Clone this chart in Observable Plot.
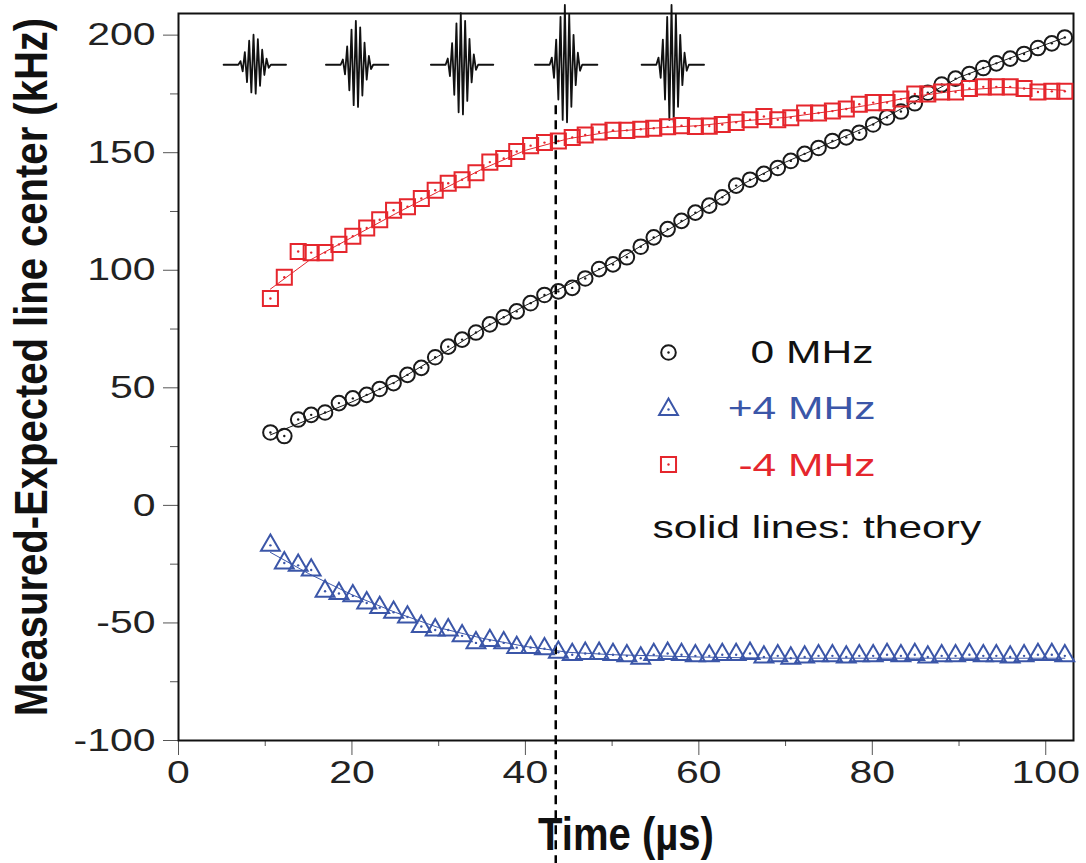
<!DOCTYPE html>
<html><head><meta charset="utf-8">
<script src="https://cdn.jsdelivr.net/npm/d3@7"></script>
<script src="https://cdn.jsdelivr.net/npm/@observablehq/plot@0.6"></script>
<style>body{margin:0;background:#fff;} svg{display:block}</style>
</head><body><div id="chart"></div>
<script>
// ---- data ----
const time = [10.6,12.2,13.8,15.3,16.9,18.5,20.1,21.7,23.2,24.8,
  26.4,28.0,29.6,31.1,32.7,34.3,35.9,37.5,39.0,40.6,
  42.2,43.8,45.4,46.9,48.5,50.1,51.7,53.3,54.8,56.4,
  58.0,59.6,61.2,62.7,64.3,65.9,67.5,69.1,70.6,72.2,
  73.8,75.4,77.0,78.5,80.1,81.7,83.3,84.9,86.4,88.0,
  89.6,91.2,92.8,94.3,95.9,97.5,99.1,100.7,102.2];
const zeroMHz = [31,29.5,36.5,38.5,39.5,43.5,45.5,47,49.5,52,
  55.5,58.5,63,67.5,70.5,73.5,77,80,82.5,86,
  89.5,91,92.5,96.5,100.5,102.5,105.5,110,114,117.5,
  121,124.5,127.5,131,136,138.5,141,143.5,146.5,149.5,
  152,155,156.5,158.5,162,165,167.5,171,175.5,179,
  181.5,183.5,186,188,190,192,194.5,196.5,199];
const plus4MHz = [-17,-24.5,-25.5,-27.5,-36.5,-37.5,-38.5,-41.5,-43.5,-45.5,
  -47.5,-51.5,-53,-53,-55.5,-58.5,-57.5,-58.5,-60.5,-60.5,
  -61,-62.5,-63.5,-63,-63,-63.5,-64,-65,-63.5,-63,
  -63.5,-64,-64,-63.5,-63.5,-63,-64.5,-64,-65,-64.5,
  -64,-64,-64.5,-64,-64,-63.5,-64,-63.5,-64.5,-64,
  -64,-63.5,-64,-64,-64.5,-64,-63.5,-63.5,-64];
const minus4MHz = [88,97,108,107.5,107.5,111,114.5,118,121.5,125.5,
  127,130.5,134,137,138.5,141.5,146,147.5,150.5,153,
  154.3,155,156.5,157.5,158.8,159.5,159.5,160,160.4,161,
  161.5,161.2,161.3,162,162.9,164,165.4,164,164.9,166.9,
  166.9,167.7,168.6,170.6,171.3,171.3,172.8,175,175,175.8,
  175.8,177.3,178,178,178,177.3,175.8,176.1,176.1];

const theoryTime  = [10.6,15,20,25,30,35,40,45,50,55,60,65,70,75,80,85,90,95,100,102.2];
const theoryZero  = [30,36.5,44,52.5,63.5,75,85,94,103,114,125,136.5,146,154,162,172,182,189,196,199];
const theoryPlus  = [-20,-29,-38,-45.5,-52,-56.5,-60,-62.5,-63.5,-64,-64.5,-64.8,-65,-65,-65,-65,-65,-65,-65,-65];
const theoryMinus = [92,104,114,124,133.5,143,151,156,159,160.5,161.5,163.5,165,167.5,170.5,174,176.5,177.8,177,176.5];

const xTicks = [0,20,40,60,80,100];
const xMinorTicks = [10,30,50,70,90];
const yTicks = [-100,-50,0,50,100,150,200];
const yMinorTicks = [-75,-25,25,75,125,175];

const seriesLabels = ["0 MHz","+4 MHz","-4 MHz"];
const theoryNote = "solid lines: theory";
const xLabel = "Time (\u00b5s)";
const yLabel = "Measured-Expected line center (kHz)";

const markerTime = [43.5];
const markerSpan = [170, -153];

// pulse sketches at the top
const packetTimes = [8.8, 20.6, 32.7, 44.7, 57.0];
const packetAmps = [12.8, 18.7, 22, 25.5, 25.5];
const packetCenter = 187.4;
const packetDt = [-3.6,-1.9,-1.65,-1.4,-1.15,-0.9,-0.65,-0.4,-0.15,0.1,0.35,0.6,0.85,1.1,1.35,1.6,1.85,3.6];
const packetShape = [0,0,0.12,-0.22,0.42,-0.58,0.8,-0.92,1.0,-0.96,0.85,-0.7,0.5,-0.34,0.2,-0.1,0,0];

// ---- styling ----
const BLACK = "#1a1a1a", BLUE = "#3b56a8", RED = "#e5262d";

const points = time.map((t, i) => ({t, zero: zeroMHz[i], plus: plus4MHz[i], minus: minus4MHz[i]}));
const theory = theoryTime.map((t, i) => ({t, zero: theoryZero[i], plus: theoryPlus[i], minus: theoryMinus[i]}));
const packets = [];
packetTimes.forEach((pt, p) => packetDt.forEach((d, k) => packets.push({p, t: pt + d, v: packetCenter + packetAmps[p] * packetShape[k]})));

const plot = Plot.plot({
  width: 1086, height: 863,
  marginLeft: 178, marginRight: 13, marginTop: 13, marginBottom: 123,
  style: {fontFamily: "'Liberation Sans', Arial, sans-serif", background: "#fff", overflow: "visible"},
  x: {domain: [0, 103.2]},
  y: {domain: [-100, 209.2]},
  marks: [
    Plot.axisX(xTicks, {tickSize: 15, tickPadding: 5, fontSize: 32, label: null, stroke: "#555", fill: "#222"}),
    Plot.axisX(xMinorTicks, {tickSize: 6, tickFormat: () => "", label: null, stroke: "#555"}),
    Plot.axisY(yTicks, {tickSize: 15, tickPadding: 8, fontSize: 32, label: null, stroke: "#555", fill: "#222", tickFormat: d => String(d)}),
    Plot.axisY(yMinorTicks, {tickSize: 8, tickFormat: () => "", label: null, stroke: "#555"}),
    Plot.frame({stroke: "#111", strokeWidth: 2}),
    Plot.line(packets, {x: "t", y: "v", z: "p", stroke: "#111", strokeWidth: 1.8}),
    Plot.line(theory, {x: "t", y: "zero", stroke: BLACK, strokeWidth: 1}),
    Plot.line(theory, {x: "t", y: "plus", stroke: BLUE, strokeWidth: 1}),
    Plot.line(theory, {x: "t", y: "minus", stroke: RED, strokeWidth: 1}),
    Plot.ruleX(markerTime, {y1: markerSpan[0], y2: markerSpan[1], stroke: "#000", strokeWidth: 2.5, strokeDasharray: "9,6"}),
    Plot.dot(points, {x: "t", y: "zero", symbol: "circle", r: 7.3, stroke: BLACK, strokeWidth: 2, fill: "none"}),
    Plot.dot(points, {x: "t", y: "zero", r: 1.2, fill: BLACK}),
    Plot.dot(points, {x: "t", y: "plus", symbol: "triangle", r: 7, stroke: BLUE, strokeWidth: 2, fill: "none"}),
    Plot.dot(points, {x: "t", y: "plus", r: 1.2, fill: BLUE}),
    Plot.dot(points, {x: "t", y: "minus", symbol: "square", r: 8.5, stroke: RED, strokeWidth: 2, fill: "none"}),
    Plot.dot(points, {x: "t", y: "minus", r: 1.2, fill: RED}),
    // legend
    Plot.dot([0], {frameAnchor: "top-left", dx: 490, dy: 339, symbol: "circle", r: 7.3, stroke: BLACK, strokeWidth: 2, fill: "none"}),
    Plot.dot([0], {frameAnchor: "top-left", dx: 490, dy: 339, r: 1.2, fill: BLACK}),
    Plot.dot([0], {frameAnchor: "top-left", dx: 490, dy: 396, symbol: "triangle", r: 7, stroke: BLUE, strokeWidth: 2, fill: "none"}),
    Plot.dot([0], {frameAnchor: "top-left", dx: 490, dy: 396, r: 1.2, fill: BLUE}),
    Plot.dot([0], {frameAnchor: "top-left", dx: 490, dy: 451, symbol: "square", r: 8.5, stroke: RED, strokeWidth: 2, fill: "none"}),
    Plot.dot([0], {frameAnchor: "top-left", dx: 490, dy: 451, r: 1.2, fill: RED}),
    Plot.text([seriesLabels[0]], {frameAnchor: "top-left", dx: 695, dy: 339, textAnchor: "end", lineAnchor: "middle", fontSize: 32, fill: "#111"}),
    Plot.text([seriesLabels[1]], {frameAnchor: "top-left", dx: 697, dy: 395, textAnchor: "end", lineAnchor: "middle", fontSize: 32, fill: BLUE}),
    Plot.text([seriesLabels[2]], {frameAnchor: "top-left", dx: 697, dy: 452, textAnchor: "end", lineAnchor: "middle", fontSize: 32, fill: RED}),
    Plot.text([theoryNote], {frameAnchor: "top-left", dx: 474, dy: 514, textAnchor: "start", lineAnchor: "middle", fontSize: 32, fill: "#111"}),
    // axis titles
    Plot.text([xLabel], {frameAnchor: "bottom", dy: 95, textAnchor: "middle", lineAnchor: "middle", fontSize: 46, fontWeight: "bold", fill: "#111"}),
    Plot.text([yLabel], {frameAnchor: "left", rotate: -90, dx: -146, dy: -10, textAnchor: "middle", lineAnchor: "middle", fontSize: 46, fontWeight: "bold", fill: "#111"})
  ]
});

// horizontal stretch of glyphs to match the reference lettering
const legendSet = new Set([...seriesLabels, theoryNote]);
const titleSet = new Set([xLabel, yLabel]);
const tickSet = new Set([...xTicks, ...yTicks].map(String));
plot.querySelectorAll("text").forEach(t => {
  const s = t.textContent;
  let sx = null;
  if (legendSet.has(s)) sx = 1.33;
  else if (titleSet.has(s)) sx = 0.87;
  else if (tickSet.has(s)) sx = 1.28;
  if (sx !== null) t.setAttribute("transform", (t.getAttribute("transform") || "") + ` scale(${sx},1)`);
});

document.getElementById("chart").appendChild(plot);
</script>
</body></html>
